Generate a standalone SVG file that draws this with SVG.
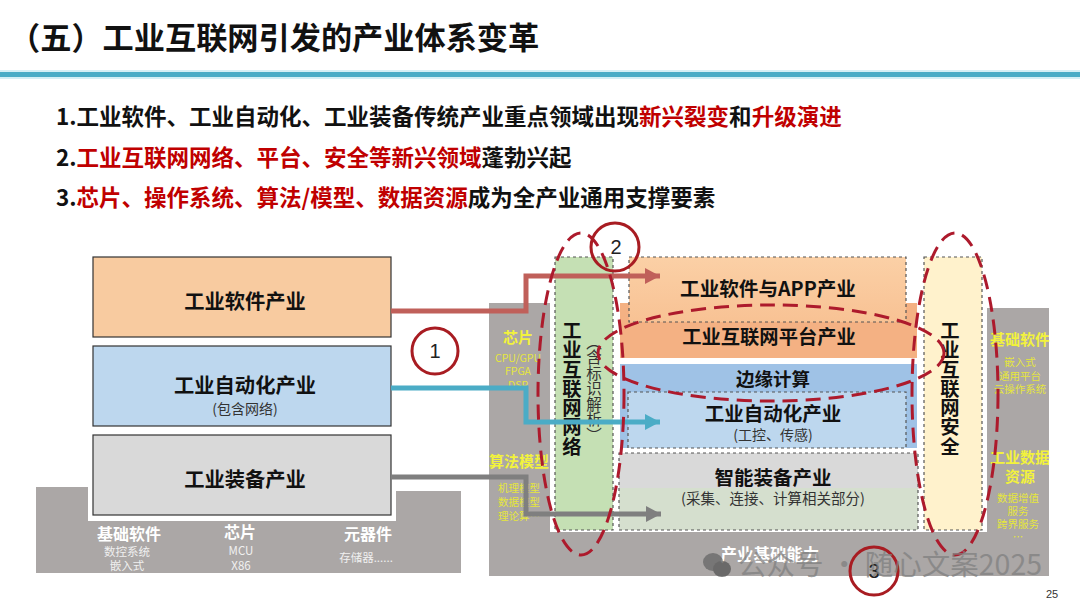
<svg xmlns="http://www.w3.org/2000/svg" width="1080" height="608" viewBox="0 0 1080 608">
<style>
text{font-family:"Noto Sans CJK SC","Liberation Sans",sans-serif;text-anchor:middle;fill:#111}
.b{font-weight:700}
.h{font-size:22.5px;font-weight:700;text-anchor:start;fill:#111}
.r{fill:#c00000}
.box{stroke:#333;stroke-width:1.2}
.d{stroke:#555;stroke-width:1.2;stroke-dasharray:3 3}
.n{font-size:20.3px;font-weight:700}
.s{font-size:14px;fill:#333}
.y{font-size:15px;font-weight:700;fill:#f2f23c}
.ys{font-size:10.5px;fill:#e6e63c}
.w{font-size:16px;font-weight:700;fill:#fff}
.ws{font-size:11.5px;fill:#f0f0f0}
.v{writing-mode:vertical-rl;text-anchor:start}
.el{fill:none;stroke:#ad1a2c;stroke-width:3;stroke-dasharray:15 8}
.c{fill:none;stroke:#a81c22;stroke-width:3}
.cn{font-family:"Liberation Sans",sans-serif;font-size:20px;fill:#222}
.ln{fill:none;stroke-width:5}
</style>
<defs>
<marker id="ar" markerUnits="userSpaceOnUse" markerWidth="16" markerHeight="16" refX="15" refY="8" orient="auto"><path d="M0 0L15 8L0 16Z" fill="#c0605a"/></marker>
<marker id="ab" markerUnits="userSpaceOnUse" markerWidth="16" markerHeight="16" refX="15" refY="8" orient="auto"><path d="M0 0L15 8L0 16Z" fill="#4bacc6"/></marker>
<marker id="ag" markerUnits="userSpaceOnUse" markerWidth="16" markerHeight="16" refX="15" refY="8" orient="auto"><path d="M0 0L15 8L0 16Z" fill="#7f7f7f"/></marker>
<linearGradient id="og" x1="0" y1="0" x2="0" y2="1"><stop offset="0" stop-color="#fbd0a6"/><stop offset="1" stop-color="#f8c294"/></linearGradient>
</defs>

<g id="header">
<rect x="0" y="70" width="1080" height="9" fill="#d6eff5"/>
<rect x="0" y="72" width="1080" height="5" fill="#4bacc6"/>
<text x="9" y="49" class="b" style="text-anchor:start;font-size:31.2px">（五）工业互联网引发的产业体系变革</text>
<text x="56" y="125" class="h">1.工业软件、工业自动化、工业装备传统产业重点领域出现<tspan class="r">新兴裂变</tspan>和<tspan class="r">升级演进</tspan></text>
<text x="56" y="166" class="h">2.<tspan class="r">工业互联网网络、平台、安全等新兴领域</tspan>蓬勃兴起</text>
<text x="56" y="206" class="h">3.<tspan class="r">芯片、操作系统、算法/模型、数据资源</tspan>成为全产业通用支撑要素</text>
</g>

<g id="left-base">
<rect x="36" y="487" width="52" height="86" fill="#aba7a6"/>
<rect x="88" y="521" width="373" height="52" fill="#aba7a6"/>
<rect x="396" y="491" width="65" height="82" fill="#aba7a6"/>
<text x="129" y="540" class="w">基础软件</text>
<text x="127" y="556" class="ws">数控系统</text>
<text x="127" y="570" class="ws">嵌入式</text>
<text x="240" y="538" class="w">芯片</text>
<text x="241" y="555" class="ws">MCU</text>
<text x="241" y="570" class="ws">X86</text>
<text x="368" y="540" class="w">元器件</text>
<text x="366" y="562" class="ws">存储器......</text>
</g>
<g id="left-software">
<rect class="box" x="93" y="257" width="298" height="80" fill="#f8cba0"/>
<text x="245" y="309" class="n">工业软件产业</text>
</g>
<g id="left-automation">
<rect class="box" x="93" y="346" width="298" height="80" fill="#bdd7ee"/>
<text x="245" y="393" class="n">工业自动化产业</text>
<text x="245" y="414" class="s">(包含网络)</text>
</g>
<g id="left-equipment">
<rect class="box" x="93" y="435" width="298" height="80" fill="#d9d9d9"/>
<text x="245" y="487" class="n">工业装备产业</text>
</g>

<g id="right-base">
<path d="M489 303H550V532H987V308H1049V576H489Z" fill="#aba7a6"/>
<text x="518" y="343" class="y">芯片</text>
<text x="518" y="362" class="ys">CPU/GPU</text>
<text x="518" y="375" class="ys">FPGA</text>
<text x="518" y="389" class="ys">DSP</text>
<text x="519" y="467" class="y">算法模型</text>
<text x="519" y="492" class="ys">机理模型</text>
<text x="519" y="506" class="ys">数据模型</text>
<text x="519" y="520" class="ys">理论算…</text>
<text x="1020" y="345" class="y">基础软件</text>
<text x="1020" y="366" class="ys">嵌入式</text>
<text x="1020" y="380" class="ys">通用平台</text>
<text x="1020" y="393" class="ys">云操作系统</text>
<text x="1020" y="463" class="y">工业数据</text>
<text x="1020" y="482" class="y">资源</text>
<text x="1018" y="502" class="ys">数据增值</text>
<text x="1018" y="515" class="ys">服务</text>
<text x="1018" y="528" class="ys">跨界服务</text>
<text x="1018" y="541" class="ys">…</text>
<text x="770" y="561" style="font-size:16.5px;font-weight:700;fill:#fff">产业基础能力</text>
</g>
<g id="platform">
<rect x="620" y="303" width="297" height="55" fill="#f4b183"/>
<text x="769" y="344" style="font-size:19.3px;font-weight:700">工业互联网平台产业</text>
</g>
<g id="app">
<rect class="d" x="629" y="257" width="277" height="65" fill="url(#og)"/>
<text x="768" y="296" style="font-size:19.6px;font-weight:700">工业软件与APP产业</text>
</g>
<g id="edge">
<rect x="620" y="364" width="297" height="84" fill="#9fc2e6"/>
<text x="773" y="386" style="font-size:18.5px;font-weight:700">边缘计算</text>
</g>
<g id="automation">
<rect class="d" x="628" y="392" width="278" height="56" fill="#bdd7ee"/>
<text x="773" y="421" style="font-size:19.5px;font-weight:700">工业自动化产业</text>
<text x="773" y="440" class="s">(工控、传感)</text>
</g>
<g id="equipment">
<rect x="619" y="453" width="299" height="36" fill="#d9d9d9"/>
<rect x="619" y="488" width="299" height="42" fill="#d5dfce"/>
<rect class="d" x="619" y="453" width="299" height="77" fill="none"/>
<text x="773" y="485" style="font-size:19.5px;font-weight:700">智能装备产业</text>
<text x="773" y="504" style="font-size:14.5px;fill:#333">(采集、连接、计算相关部分)</text>
</g>
<g id="network">
<rect class="d" x="555" y="257" width="58" height="273" fill="#c5e0b4"/>
<text class="v" x="572" y="321" style="font-size:19.3px;font-weight:700">工业互联网网络</text>
<text class="v" x="594" y="334" style="font-size:15.5px;fill:#333">（含标识解析）</text>
</g>
<g id="security">
<rect class="d" x="924" y="257" width="58" height="273" fill="#fff2cc"/>
<text class="v" x="950" y="321" style="font-size:19.3px;font-weight:700">工业互联网安全</text>
</g>

<g id="connectors">
<path class="ln" d="M391 311H526V276H660" stroke="#c0605a" marker-end="url(#ar)"/>
<path class="ln" d="M391 388H526V422H660" stroke="#4bacc6" marker-end="url(#ab)"/>
<path class="ln" d="M391 477H526V514H661" stroke="#7f7f7f" marker-end="url(#ag)"/>
</g>

<g id="highlights">
<ellipse class="el" cx="581" cy="394" rx="43" ry="161"/>
<ellipse class="el" cx="955" cy="394" rx="43" ry="161"/>
<ellipse class="el" cx="771" cy="353" rx="173" ry="48"/>
</g>
<g id="marker-1"><circle class="c" cx="435" cy="351" r="23"/><text class="cn" x="435" y="358">1</text></g>
<g id="marker-2"><circle class="c" cx="615" cy="247" r="24"/><text class="cn" x="616" y="254">2</text></g>
<g id="marker-3"><circle class="c" cx="874" cy="571" r="24"/><text class="cn" x="874" y="578">3</text></g>

<g id="watermark" opacity="0.75">
<ellipse cx="713" cy="562" rx="10" ry="9" fill="#666"/>
<ellipse cx="722" cy="569" rx="9" ry="8" fill="#555"/>
<text x="738" y="575" style="text-anchor:start;font-size:28.5px;fill:#808080">公众号 · 随心文案2025</text>
</g>
<text x="1052" y="598" style="font-family:'Liberation Sans',sans-serif;font-size:11px;fill:#333">25</text>
</svg>
